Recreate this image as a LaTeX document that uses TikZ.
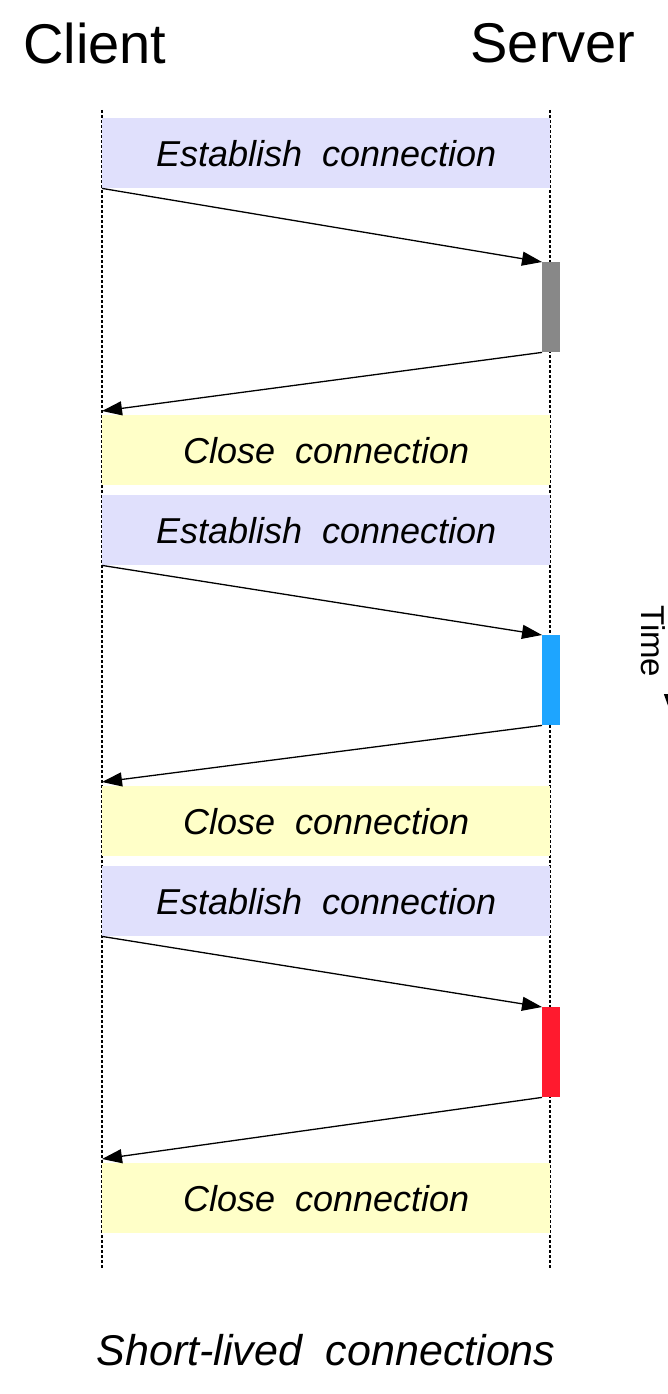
\documentclass[tikz,border=0pt]{standalone}
\usepackage{fontspec}
\setmainfont{Liberation Sans}
\usetikzlibrary{arrows.meta}
\definecolor{estfill}{RGB}{224,224,252}
\definecolor{closefill}{RGB}{255,255,200}
\definecolor{bargray}{RGB}{136,136,136}
\definecolor{barblue}{RGB}{30,165,255}
\definecolor{barred}{RGB}{255,26,46}
\tikzset{
  lifeline/.style={line width=1.5pt,dash pattern=on 3pt off 2pt},
  msg/.style={line width=1.3pt,-{Triangle[length=20pt,width=14pt]}},
  phase/.style={anchor=north west,minimum width=448pt,minimum height=70pt,
    inner sep=0pt,font=\fontsize{36}{40}\selectfont\itshape},
  actor/.style={font=\fontsize{56}{60}\selectfont},
}
\begin{document}
\begin{tikzpicture}[x=1pt,y=-1pt]
\useasboundingbox (0,0) rectangle (668,1394);
\node[actor] (client) at (95,43) {Client};
\node[actor] (server) at (553,43) {Server};
\coordinate (C0) at (102,110);
\coordinate (C1) at (102,1268);
\coordinate (S0) at (550,110);
\coordinate (S1) at (550,1268);
\draw [lifeline] (C0) to (C1);
\draw [lifeline] (S0) to (S1);
\foreach \i/\e/\b/\c/\col in {1/118/262/415/bargray,2/495/635/786/barblue,3/866/1007/1163/barred}{
  \node[phase,fill=estfill] (est\i) at (102,\e) {Establish\ \ connection};
  \node[anchor=north west,fill=\col,minimum width=18pt,minimum height=90pt,inner sep=0pt] (bar\i) at (542,\b) {};
  \node[phase,fill=closefill] (close\i) at (102,\c) {Close\ \ connection};
  \draw [msg] (est\i.south west) to (bar\i.north west);
  \draw [msg] (bar\i.south west) to ([yshift=4pt]close\i.north west);
}
\node[rotate=-90,anchor=base west,inner sep=0pt,font=\fontsize{33}{36}\selectfont] (time) at (641,605) {Time};
\coordinate (T0) at (671,680);
\coordinate (T1) at (671,714);
\draw [msg] (T0) to (T1);
\node[font=\fontsize{43}{48}\selectfont\itshape] (caption) at (326,1350) {Short-lived\ \ connections};
\end{tikzpicture}
\end{document}
